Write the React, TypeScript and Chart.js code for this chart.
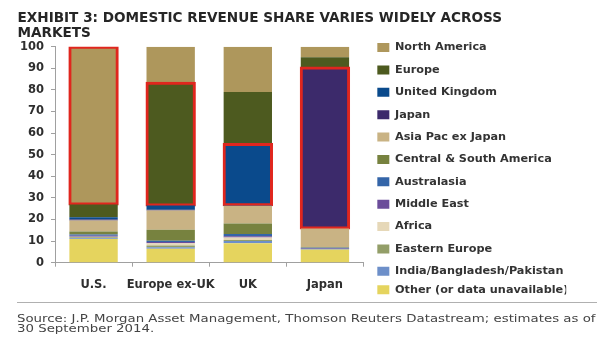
import React, { useEffect, useRef } from 'react';
import { Chart, registerables } from 'chart.js';

Chart.register(...registerables);

// ---- data ----
const categories = ['U.S.', 'Europe ex-UK', 'UK', 'Japan'];

const northAmerica = [73, 16.7, 21, 4.9];
const europe = [6, 56.8, 24, 4.7];
const unitedKingdom = [1, 2, 28.4, 0];
const japan = [0.5, 0.3, 0.2, 74.6];
const asiaPacExJapan = [5, 9, 8.3, 8.6];
const centralSouthAmerica = [1.5, 5, 4.8, 0.3];
const australasia = [0.5, 0.6, 1, 0.3];
const middleEast = [0.5, 0.6, 0.6, 0.2];
const africa = [0.2, 1, 1.2, 0.1];
const easternEurope = [0.5, 0.9, 0.5, 0.2];
const indiaBangladeshPakistan = [0.3, 0.6, 1, 0.1];
const otherUnavailable = [11, 6.5, 9, 6];

const yTicks = [0, 10, 20, 30, 40, 50, 60, 70, 80, 90, 100];

const titleLines = ['EXHIBIT 3: DOMESTIC REVENUE SHARE VARIES WIDELY ACROSS', 'MARKETS'];
const sourceLines = [
  'Source: J.P. Morgan Asset Management, Thomson Reuters Datastream; estimates as of',
  '30 September 2014.',
];

// stacked bottom -> top; "domestic" = category index outlined in red (-1 = none)
const series = [
  { label: 'Other (or data unavailable)', data: otherUnavailable, color: '#e5d45e', domestic: -1 },
  { label: 'India/Bangladesh/Pakistan', data: indiaBangladeshPakistan, color: '#6d8fc9', domestic: -1 },
  { label: 'Eastern Europe', data: easternEurope, color: '#939e68', domestic: -1 },
  { label: 'Africa', data: africa, color: '#e6d8b8', domestic: -1 },
  { label: 'Middle East', data: middleEast, color: '#6b4c9a', domestic: -1 },
  { label: 'Australasia', data: australasia, color: '#3465a8', domestic: -1 },
  { label: 'Central & South America', data: centralSouthAmerica, color: '#77823f', domestic: -1 },
  { label: 'Asia Pac ex Japan', data: asiaPacExJapan, color: '#c9b384', domestic: -1 },
  { label: 'Japan', data: japan, color: '#3c2a6b', domestic: 3 },
  { label: 'United Kingdom', data: unitedKingdom, color: '#0a4a8c', domestic: 2 },
  { label: 'Europe', data: europe, color: '#4d5a1f', domestic: 1 },
  { label: 'North America', data: northAmerica, color: '#ae975c', domestic: 0 },
];

const RED = '#e0261e';
const TEXT = '#2e2e2e';
const AXIS = '#a0a0a0';

export default function App() {
  const ref = useRef<HTMLCanvasElement>(null);

  useEffect(() => {
    if (!ref.current) return;
    const chart = new Chart(ref.current, {
      type: 'bar',
      data: {
        labels: categories,
        datasets: series.map((s) => ({
          label: s.label,
          data: s.data,
          backgroundColor: s.color,
          borderColor: RED,
          borderWidth: categories.map((_, i) => (i === s.domestic ? 3 : 0)),
          inflateAmount: categories.map((_, i) => (i === s.domestic ? 1 : 'auto')),
          borderSkipped: false,
          barPercentage: 0.627,
          categoryPercentage: 1,
        })) as any,
      },
      options: {
        responsive: false,
        animation: false,
        layout: { padding: { top: 0, left: 17.5, right: 46.8, bottom: 45.625 } },
        plugins: {
          tooltip: { enabled: false },
          title: {
            display: true,
            text: titleLines,
            align: 'start',
            color: '#262626',
            font: { family: 'DejaVu Sans', weight: 'bold', size: 13.6, lineHeight: '15.5px' },
            padding: { top: 10.25, bottom: 5.45 },
          },
          legend: {
            position: 'right',
            align: 'end',
            maxWidth: 200,
            labels: {
              boxWidth: 12,
              boxHeight: 9,
              padding: 11.125,
              color: '#333',
              font: { family: 'DejaVu Sans', weight: 'bold', size: 11.25, lineHeight: '7.25px' },
              generateLabels: (c: any) =>
                c.data.datasets
                  .map((ds: any, i: number) => ({
                    text: ds.label === 'India/Bangladesh/Pakistan' ? [ds.label] : ds.label,
                    fillStyle: ds.backgroundColor,
                    strokeStyle: ds.backgroundColor,
                    lineWidth: 0,
                    hidden: false,
                    fontColor: '#333',
                    datasetIndex: i,
                  }))
                  .reverse(),
            },
          },
        },
        scales: {
          x: {
            stacked: true,
            grid: { display: true, drawOnChartArea: false, drawTicks: true, tickLength: 4, color: AXIS, offset: true },
            border: { display: true, color: AXIS },
            ticks: {
              color: TEXT,
              padding: 11.4,
              maxRotation: 0,
              minRotation: 0,
              autoSkip: false,
              font: { family: 'DejaVu Sans', weight: 'bold', size: 11.5 },
            },
            afterFit: (s: any) => {
              s.height = 43.675;
            },
          },
          y: {
            stacked: true,
            min: 0,
            max: 100,
            afterBuildTicks: (s: any) => {
              s.ticks = yTicks.map((v) => ({ value: v }));
            },
            grid: { display: true, drawOnChartArea: false, drawTicks: true, tickLength: 4, color: AXIS },
            border: { display: true, color: AXIS },
            ticks: { color: TEXT, padding: 7, font: { family: 'DejaVu Sans', weight: 'bold', size: 11.5 } },
            afterFit: (s: any) => {
              s.width = 37.5;
            },
          },
          y2: {
            position: 'right',
            display: true,
            grid: { display: false },
            border: { display: false },
            ticks: { display: false },
            afterFit: (s: any) => {
              s.width = 2.7;
            },
          },
        },
      },
    });
    return () => chart.destroy();
  }, []);

  return (
    <div style={{ position: 'fixed', left: 0, top: 0, width: 613, height: 352, background: '#fff', overflow: 'hidden' }}>
      <canvas ref={ref} width={613} height={352} style={{ position: 'absolute', left: 0, top: 0, width: 613, height: 352 }} />
      <div style={{ position: 'absolute', left: 17, top: 302, width: 580, height: 0, borderTop: '1px solid #b0b0b0' }} />
      <div
        style={{
          position: 'absolute',
          left: 17,
          top: 313.5,
          fontFamily: 'DejaVu Sans',
          fontSize: 11.3,
          lineHeight: '10.6px',
          color: '#444',
          whiteSpace: 'nowrap',
          transform: 'scaleX(1.18)',
          transformOrigin: 'left top',
        }}
      >
        <div>{sourceLines[0]}</div>
        <div>{sourceLines[1]}</div>
      </div>
    </div>
  );
}
